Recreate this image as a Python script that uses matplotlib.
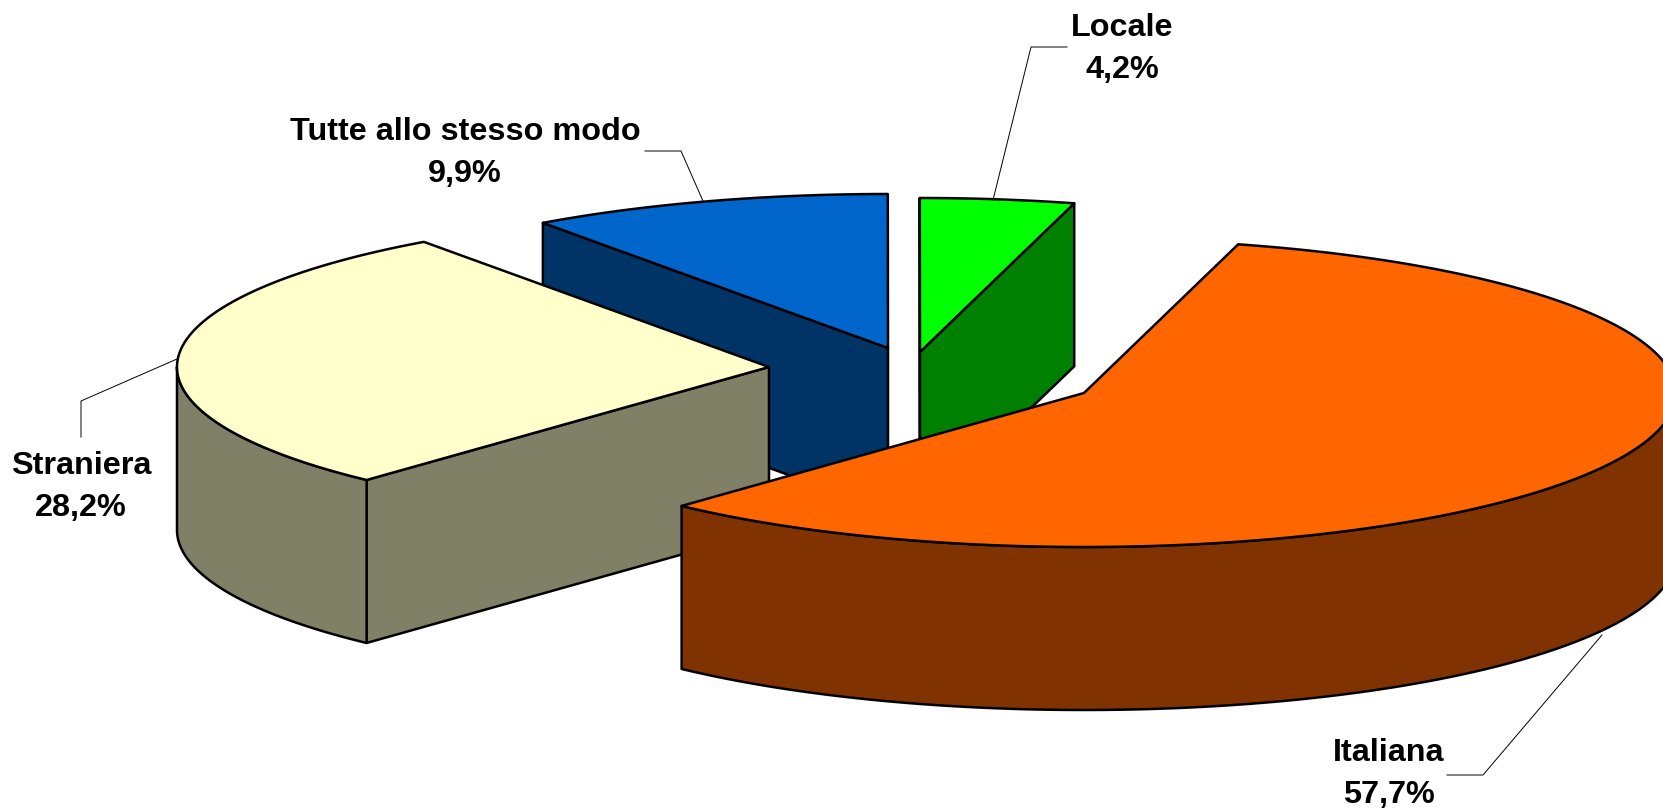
import numpy as np
import matplotlib
matplotlib.use("Agg")
import matplotlib.pyplot as plt
from matplotlib.patches import Polygon

categories = ["Italiana", "Straniera", "Tutte allo stesso modo", "Locale"]
shares = [57.7, 28.2, 9.9, 4.2]
value_labels = ["57,7%", "28,2%", "9,9%", "4,2%"]

top_colors = ["#FF6600", "#FFFFCC", "#0066CC", "#00FF00"]
side_colors = ["#803300", "#808066", "#003366", "#008000"]

# pie geometry, in pixels of the output image
RX, RY, DEPTH = 592, 154, 163
START = 74.9
apex_x = [1084, 769, 888, 920]
apex_y = [393, 367, 348, 352]
draw_order = [2, 3, 1, 0]
LW = 1.8


def ell(i, t):
    t = np.radians(t)
    return apex_x[i] + RX * np.cos(t), apex_y[i] - RY * np.sin(t)


def side_poly(ax, xs, ys, color):
    xs, ys = np.asarray(xs), np.asarray(ys)
    pts = np.r_[np.c_[xs, ys], np.c_[xs[::-1], ys[::-1] + DEPTH]]
    ax.add_patch(Polygon(pts, closed=True, fc=color, ec="black", lw=LW, joinstyle="round"))


fig = plt.figure(figsize=(16.63, 8.10), dpi=100)
ax = fig.add_axes([0, 0, 1, 1])
ax.set_xlim(0, 1663)
ax.set_ylim(810, 0)
ax.axis("off")

# slice angles run clockwise, starting from START
angles = START - np.cumsum([0] + [s * 3.6 for s in shares])

for i in draw_order:
    a0, a1 = angles[i], angles[i + 1]
    px, py = apex_x[i], apex_y[i]
    # cut faces that look towards the viewer
    if np.cos(np.radians(a0)) < 0:
        ex, ey = ell(i, a0)
        side_poly(ax, [px, ex], [py, ey], side_colors[i])
    if np.cos(np.radians(a1)) > 0:
        ex, ey = ell(i, a1)
        side_poly(ax, [px, ex], [py, ey], side_colors[i])
    # outer rim, only the lower half of the ellipse shows
    k0 = np.ceil((a1 - 180) / 360)
    for k in (k0 - 1, k0, k0 + 1):
        r0, r1 = max(a1, 180 + 360 * k), min(a0, 360 + 360 * k)
        if r1 > r0:
            tt = np.linspace(r0, r1, 120)
            xs, ys = ell(i, tt)
            side_poly(ax, xs, ys, side_colors[i])
    tt = np.linspace(a0, a1, 200)
    xs, ys = ell(i, tt)
    pts = np.r_[[[px, py]], np.c_[xs, ys]]
    ax.add_patch(Polygon(pts, closed=True, fc=top_colors[i], ec="black", lw=LW, joinstyle="round"))

# leader lines, from the slice edge out to the label
leaders = {
    0: ([1602, 1483, 1447], [635, 775, 775]),
    1: ([177, 81, 81], [359, 401, 437]),
    2: ([703, 681, 645], [201, 151, 151]),
    3: ([993, 1031, 1067], [200, 47, 47]),
}
for i, (lx, ly) in leaders.items():
    ax.plot(lx, ly, color="black", lw=0.7, solid_joinstyle="miter")

label_pos = [(1389, 774), (81, 487), (465, 153), (1122, 49)]
for i, (lx, ly) in enumerate(label_pos):
    ax.text(lx, ly, categories[i] + "\n" + value_labels[i], ha="center", va="center",
            family="Liberation Sans", fontweight="bold", fontsize=23.3, linespacing=1.5)

fig.savefig("out.png", dpi=100, facecolor="white")
